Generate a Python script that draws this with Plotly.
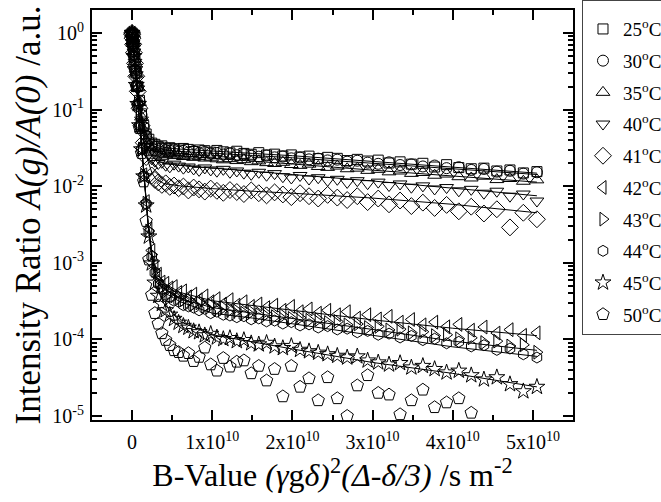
import plotly.graph_objects as go

# B-values in units of 1e10 s m^-2 (shared by all series)
b_value = [0, 0.00145, 0.0058, 0.0131, 0.0232, 0.0363, 0.0522, 0.0711, 0.0929, 0.1175,
           0.1451, 0.1756, 0.2090, 0.2453, 0.2845, 0.3265, 0.3715, 0.4194, 0.4702, 0.5239,
           0.5805, 0.6400, 0.7024, 0.7677, 0.8359, 0.9070, 0.9810, 1.0579, 1.1378, 1.2205,
           1.3061, 1.3946, 1.4860, 1.5803, 1.6776, 1.7777, 1.8807, 1.9866, 2.0954, 2.2071,
           2.3218, 2.4393, 2.5597, 2.6830, 2.8092, 2.9383, 3.0703, 3.2052, 3.3430, 3.4837,
           3.6273, 3.7738, 3.9232, 4.0755, 4.2307, 4.3888, 4.5498, 4.7137, 4.8805, 5.0500]

labels = ["25<sup>o</sup>C", "30<sup>o</sup>C", "35<sup>o</sup>C", "40<sup>o</sup>C", "41<sup>o</sup>C",
          "42<sup>o</sup>C", "43<sup>o</sup>C", "44<sup>o</sup>C", "45<sup>o</sup>C", "50<sup>o</sup>C"]

s25 = [1.0, 0.972, 0.876, 0.736, 0.58, 0.429, 0.30, 0.201, 0.132, 0.088,
       0.062, 0.048, 0.041, 0.0365, 0.0352, 0.0328, 0.0336, 0.0312, 0.0318, 0.0309,
       0.0296, 0.0311, 0.0302, 0.0284, 0.0297, 0.0291, 0.0278, 0.0293, 0.0281, 0.0272,
       0.0286, 0.0268, 0.0261, 0.0274, 0.0255, 0.0262, 0.0248, 0.0256, 0.0241, 0.0247,
       0.0229, 0.0238, 0.0231, 0.0216, 0.0224, 0.0213, 0.0219, 0.0201, 0.0208, 0.0194,
       0.0199, 0.0178, 0.0191, 0.0175, 0.0169, 0.0172, 0.0158, 0.0163, 0.0149, 0.0155]
s30 = [1.0, 0.971, 0.874, 0.733, 0.577, 0.426, 0.297, 0.198, 0.129, 0.085,
       0.059, 0.045, 0.0385, 0.0342, 0.0331, 0.0309, 0.0315, 0.0296, 0.0291, 0.0302,
       0.0283, 0.0289, 0.0276, 0.0287, 0.0271, 0.0279, 0.0266, 0.0272, 0.0259, 0.0268,
       0.0254, 0.0261, 0.0249, 0.0243, 0.0252, 0.0238, 0.0244, 0.0231, 0.0236, 0.0224,
       0.0229, 0.0217, 0.0222, 0.0209, 0.0215, 0.0203, 0.0196, 0.0205, 0.0189, 0.0193,
       0.0181, 0.0186, 0.0172, 0.0177, 0.0163, 0.0168, 0.0155, 0.0159, 0.0146, 0.0152]
s35 = [1.0, 0.969, 0.871, 0.729, 0.572, 0.421, 0.292, 0.193, 0.124, 0.080,
       0.054, 0.040, 0.0335, 0.0298, 0.0281, 0.0272, 0.0264, 0.0258, 0.0266, 0.0251,
       0.0256, 0.0244, 0.0249, 0.0238, 0.0245, 0.0233, 0.0239, 0.0228, 0.0221, 0.0229,
       0.0216, 0.0222, 0.0209, 0.0214, 0.0203, 0.0198, 0.0205, 0.0192, 0.0187, 0.0194,
       0.0181, 0.0176, 0.0183, 0.0169, 0.0172, 0.0161, 0.0166, 0.0154, 0.0158, 0.0147,
       0.0151, 0.0139, 0.0144, 0.0133, 0.0128, 0.0135, 0.0122, 0.0126, 0.0116, 0.0121]
s40 = [1.0, 0.966, 0.866, 0.722, 0.565, 0.414, 0.285, 0.186, 0.117, 0.073,
       0.047, 0.033, 0.0265, 0.0228, 0.0212, 0.0198, 0.0205, 0.0188, 0.0179, 0.0194,
       0.0183, 0.0172, 0.0178, 0.0168, 0.0161, 0.0173, 0.0163, 0.0157, 0.0166, 0.0152,
       0.0158, 0.0148, 0.0143, 0.0152, 0.0139, 0.0146, 0.0133, 0.0128, 0.0138, 0.0124,
       0.0129, 0.0119, 0.0123, 0.0112, 0.0118, 0.0108, 0.0113, 0.0102, 0.0107, 0.0097,
       0.0101, 0.0092, 0.0096, 0.0087, 0.0091, 0.0081, 0.0086, 0.0074, 0.0079, 0.0064]
s41 = [1.0, 0.960, 0.855, 0.710, 0.552, 0.401, 0.272, 0.173, 0.104, 0.062,
       0.037, 0.024, 0.0175, 0.0138, 0.0121, 0.0112, 0.0104, 0.0109, 0.0098, 0.0102,
       0.0094, 0.0099, 0.0088, 0.0096, 0.0091, 0.0085, 0.0093, 0.0087, 0.0082, 0.0089,
       0.0084, 0.0079, 0.0088, 0.0081, 0.0076, 0.0083, 0.0078, 0.0072, 0.0081, 0.0074,
       0.0069, 0.0077, 0.0071, 0.0066, 0.0074, 0.0062, 0.0069, 0.0058, 0.0065, 0.0055,
       0.0061, 0.0052, 0.0057, 0.0047, 0.0054, 0.0044, 0.0050, 0.0029, 0.0045, 0.0037]
s42 = [1.0, 0.957, 0.841, 0.676, 0.50, 0.338, 0.211, 0.119, 0.063, 0.031,
       0.0141, 0.0063, 0.0028, 0.00145, 0.00091, 0.00071, 0.00056, 0.00054, 0.00047, 0.00049,
       0.00041, 0.00043, 0.00036, 0.00039, 0.00033, 0.00037, 0.00031, 0.00034, 0.00029, 0.00033,
       0.00028, 0.00031, 0.00027, 0.00029, 0.00026, 0.00028, 0.00024, 0.00027, 0.00023, 0.00025,
       0.00022, 0.00024, 0.00021, 0.00023, 0.00019, 0.00021, 0.000185, 0.0002, 0.000168, 0.000182,
       0.000155, 0.000168, 0.000146, 0.000157, 0.000132, 0.000145, 0.000121, 0.000134, 0.000113, 0.000122]
s43 = [1.0, 0.957, 0.840, 0.675, 0.499, 0.337, 0.210, 0.119, 0.0625, 0.0305,
       0.0138, 0.0060, 0.0026, 0.00128, 0.00079, 0.00058, 0.00049, 0.00043, 0.00041, 0.00037,
       0.00035, 0.00033, 0.00031, 0.00029, 0.00030, 0.00027, 0.00028, 0.00025, 0.00026, 0.00024,
       0.000235, 0.00022, 0.000228, 0.00021, 0.000215, 0.000198, 0.000205, 0.000188, 0.000192, 0.000178,
       0.000182, 0.000166, 0.000171, 0.000155, 0.000159, 0.000143, 0.000148, 0.000133, 0.000136, 0.000122,
       0.000126, 0.000112, 0.000115, 0.000102, 0.000105, 0.000091, 0.000095, 0.000082, 0.000085, 0.000068]
s44 = [1.0, 0.957, 0.840, 0.675, 0.499, 0.337, 0.210, 0.119, 0.0624, 0.0304,
       0.0137, 0.0059, 0.0025, 0.00121, 0.00074, 0.00053, 0.00045, 0.00038, 0.00036, 0.00032,
       0.00031, 0.00028, 0.00027, 0.00026, 0.00024, 0.00025, 0.00022, 0.00023, 0.00021, 0.000205,
       0.000195, 0.000201, 0.000183, 0.000188, 0.000172, 0.000176, 0.000161, 0.000168, 0.000152, 0.000157,
       0.000143, 0.000149, 0.000135, 0.000138, 0.000124, 0.000129, 0.000115, 0.000119, 0.000106, 0.000111,
       0.000098, 0.000102, 0.000089, 0.000093, 0.000081, 0.000084, 0.000073, 0.000076, 0.000064, 0.000058]
s45 = [1.0, 0.956, 0.839, 0.674, 0.498, 0.336, 0.209, 0.118, 0.0622, 0.0302,
       0.0134, 0.0056, 0.0022, 0.00098, 0.00055, 0.00037, 0.00029, 0.00024, 0.00021, 0.000185,
       0.000165, 0.00015, 0.000142, 0.000128, 0.000124, 0.000113, 0.000118, 0.000106, 0.000101, 0.000104,
       0.000095, 0.000098, 0.000089, 0.000086, 0.00009, 0.000081, 0.000077, 0.000082, 0.000073, 0.00007,
       0.000067, 0.000064, 0.000061, 0.000058, 0.00006, 0.000053, 0.00005, 0.000047, 0.000049, 0.000043,
       0.000045, 0.000041, 0.000037, 0.000039, 0.000034, 0.00003, 0.000032, 0.000026, 0.000021, 0.000024]
s50 = [1.0, 0.955, 0.835, 0.668, 0.49, 0.328, 0.201, 0.112, 0.057, 0.027,
       0.0115, 0.0035, 0.0011, 0.00038, 0.00022, 0.00016, 0.00012, 0.000098, 0.000084, 0.000072,
       0.000068, 0.000061, 0.000066, 0.000052, 0.000059, 0.000078, 0.000047, 0.000039, 0.000057, 0.000044,
       0.000051, 0.000053, 0.000036, 0.000045, 0.000029, 0.000041, 0.000018, 0.000045, 0.000024, 0.000031,
       0.000016, 0.000032, 0.000017, 0.00001, 0.000025, 0.000034, 0.00002, 0.000019, 0.0000105, 0.000016,
       0.000022, 0.000013, 0.000015, 0.000017, 0.000011, 0.000006, 0.0000045, 0.000007, 0.000005, 0.000004]

# fitted curves (sparse points; no fit line is drawn for 50 oC)
fit_b = [0, 0.02, 0.05, 0.08, 0.12, 0.16, 0.2, 0.25, 0.3, 0.4, 0.6, 1.0, 1.5, 2.0, 3.0, 4.0, 5.05]
fit25 = [1.0, 0.625, 0.315, 0.168, 0.085, 0.0548, 0.0435, 0.0374, 0.0345, 0.032, 0.0305, 0.029, 0.0268, 0.025, 0.021, 0.0178, 0.0148]
fit30 = [1.0, 0.622, 0.312, 0.165, 0.0828, 0.0523, 0.041, 0.0349, 0.032, 0.0298, 0.0284, 0.0271, 0.0252, 0.0235, 0.0199, 0.0168, 0.0142]
fit35 = [1.0, 0.618, 0.308, 0.161, 0.0783, 0.0478, 0.0365, 0.0304, 0.028, 0.026, 0.0248, 0.0232, 0.0213, 0.0195, 0.0162, 0.0135, 0.0113]
fit40 = [1.0, 0.612, 0.302, 0.155, 0.0723, 0.0418, 0.0305, 0.0244, 0.022, 0.0198, 0.0187, 0.0172, 0.0156, 0.0142, 0.0117, 0.0095, 0.0075]
fit41 = [1.0, 0.602, 0.292, 0.145, 0.0628, 0.0323, 0.021, 0.0147, 0.0123, 0.0108, 0.0101, 0.0093, 0.0086, 0.0081, 0.007, 0.0058, 0.0045]
fit42 = [1.0, 0.55, 0.224, 0.092, 0.0286, 0.0093, 0.00336, 0.0013, 0.00077, 0.00054, 0.00041, 0.00032, 0.00028, 0.00024, 0.00018, 0.00014, 0.000112]
fit43 = [1.0, 0.55, 0.224, 0.092, 0.0284, 0.0091, 0.00323, 0.00118, 0.00067, 0.00045, 0.00034, 0.00026, 0.00022, 0.00019, 0.000135, 0.000095, 0.000072]
fit44 = [1.0, 0.55, 0.224, 0.092, 0.0283, 0.0091, 0.00318, 0.00113, 0.00062, 0.00041, 0.00031, 0.00022, 0.00019, 0.00016, 0.000112, 0.00008, 0.00006]
fit45 = [1.0, 0.55, 0.224, 0.092, 0.0281, 0.0089, 0.00306, 0.001, 0.00049, 0.00029, 0.00017, 0.000115, 0.000092, 0.000075, 0.00005, 0.000036, 0.000024]

x_tick_vals = [0, 1, 2, 3, 4, 5]
x_tick_text = ["0", "1x10<sup>10</sup>", "2x10<sup>10</sup>", "3x10<sup>10</sup>", "4x10<sup>10</sup>", "5x10<sup>10</sup>"]
y_tick_vals = [1, 0.1, 0.01, 0.001, 0.0001, 0.00001]
y_tick_text = ["10<sup>0</sup>", "10<sup>-1</sup>", "10<sup>-2</sup>", "10<sup>-3</sup>", "10<sup>-4</sup>", "10<sup>-5</sup>"]

UNIT = 1e10
series = [s25, s30, s35, s40, s41, s42, s43, s44, s45, s50]
fits = [fit25, fit30, fit35, fit40, fit41, fit42, fit43, fit44, fit45]
symbols = ["square-open", "circle-open", "triangle-up-open", "triangle-down-open", "diamond-open",
           "triangle-left-open", "triangle-right-open", "hexagon-open", "star-open", "pentagon-open"]
msizes = [10, 11, 12, 12, 13, 12, 12, 11, 12, 13]

FONT = "Liberation Serif"
fig = go.Figure()
xb = [v * UNIT for v in b_value]
xf = [v * UNIT for v in fit_b]
for k, (lab, ys, sym, ms) in enumerate(zip(labels, series, symbols, msizes)):
    fig.add_trace(go.Scatter(x=xb, y=ys, mode="markers", name=lab, legendgroup=f"g{k}",
                             marker=dict(symbol=sym, size=ms, color="black",
                                         line=dict(width=1, color="black")),
                             cliponaxis=True))
for ys in fits:
    fig.add_trace(go.Scatter(x=xf, y=ys, mode="lines", showlegend=False,
                             line=dict(color="black", width=1), hoverinfo="skip"))

axis_common = dict(showline=True, linewidth=2, linecolor="black", mirror="allticks",
                   ticks="inside", ticklen=10, tickwidth=1.5, tickcolor="black",
                   showgrid=False, zeroline=False,
                   tickfont=dict(family=FONT, size=20, color="black"))

fig.update_xaxes(range=[-0.5 * UNIT, 5.5 * UNIT], tickmode="array",
                 tickvals=[v * UNIT for v in x_tick_vals], ticktext=x_tick_text,
                 minor=dict(ticks="inside", ticklen=5, tickwidth=1.5, tickcolor="black",
                            tickmode="linear", tick0=0, dtick=0.5 * UNIT),
                 title=dict(text="B-Value <i>(γ</i>g<i>δ)</i><sup>2</sup><i>(Δ-δ/3)</i> /s m<sup>-2</sup>",
                            font=dict(family=FONT, size=32, color="black"), standoff=5),
                 ticklabelstandoff=3,
                 **axis_common)
fig.update_yaxes(type="log", range=[-5.052, 0.300], tickmode="array",
                 tickvals=y_tick_vals, ticktext=y_tick_text,
                 minor=dict(ticks="inside", ticklen=5, tickwidth=1.5, tickcolor="black", dtick="D1"),
                 title=dict(text="Intensity Ratio <i>A(g)/A(0)</i> /a.u.",
                            font=dict(family=FONT, size=35, color="black"), standoff=1),
                 ticklabelstandoff=2,
                 **axis_common)

fig.update_layout(width=661, height=502,
                  margin=dict(l=92, r=88, t=10, b=82, autoexpand=False),
                  plot_bgcolor="white", paper_bgcolor="white",
                  font=dict(family=FONT, color="black"),
                  showlegend=True,
                  legend=dict(x=1.0187, y=1.0244, xanchor="left", yanchor="top",
                              bordercolor="#444", borderwidth=1, bgcolor="white",
                              font=dict(family=FONT, size=19, color="black"),
                              title=dict(text=" ", font=dict(family=FONT, size=7)),
                              itemwidth=30, tracegroupgap=4, maxheight=400))
fig.write_html("out.html")
